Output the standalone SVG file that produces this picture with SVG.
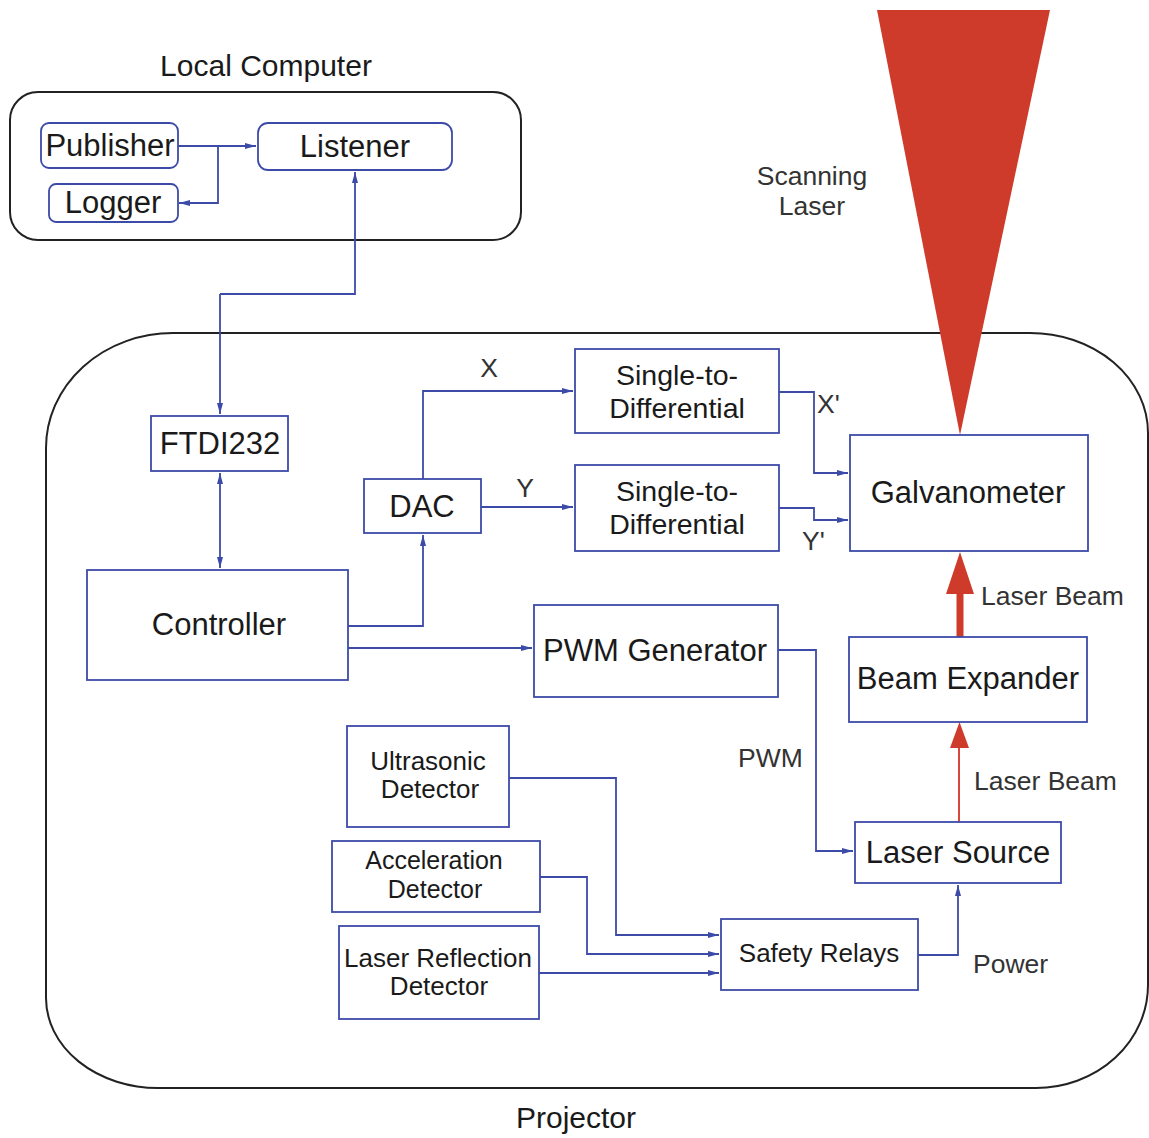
<svg xmlns="http://www.w3.org/2000/svg" width="1149" height="1138" viewBox="0 0 1149 1138">
<defs>
<style>
.box{fill:#fff;stroke:#3c4ba8;stroke-width:1.8}
.frame{fill:none;stroke:#222;stroke-width:2}
.t{font-family:"Liberation Sans",Arial,sans-serif;fill:#1a1a1a;text-anchor:middle}
.big{font-size:31px}
.s2d{font-size:28.5px}
.mid{font-size:26px}
.lbl{font-family:"Liberation Sans",Arial,sans-serif;fill:#333;font-size:26.5px}
.c{fill:none;stroke:#3c4ba8;stroke-width:1.8}
.red{fill:#cf3b2b}
</style>
<marker id="a" markerUnits="userSpaceOnUse" markerWidth="11" markerHeight="8" refX="11" refY="4" orient="auto-start-reverse">
<path d="M0,1 L11,4 L0,7 z" fill="#3c4ba8"/>
</marker>
</defs>
<rect width="1149" height="1138" fill="#fff"/>

<g id="local-computer">
<rect class="frame" x="10" y="92" width="511" height="148" rx="28"/>
<text class="t" x="266" y="76" font-size="30">Local Computer</text>
</g>
<g id="projector">
<path class="frame" d="M173,333 H1030 A118,100 0 0 1 1148,433 V985 A112,103 0 0 1 1036,1088 H158 A112,90 0 0 1 46,998 V448 A127,115 0 0 1 173,333 Z"/>
<text class="t" x="576" y="1128" font-size="30">Projector</text>
</g>
<g id="scanning-laser">
<polygon class="red" points="877,10 1050,10 960,435"/>
<text class="lbl" x="812" y="185" text-anchor="middle">Scanning</text>
<text class="lbl" x="812" y="215" text-anchor="middle">Laser</text>
</g>

<g id="connectors">
<path class="c" d="M178,146 H256" marker-end="url(#a)"/>
<path class="c" d="M218,146 V203 H179" marker-end="url(#a)"/>
<path class="c" d="M220,294 H355 V172" marker-end="url(#a)"/>
<path class="c" d="M220,294 V414" marker-end="url(#a)"/>
<path class="c" d="M220,473 V568" marker-start="url(#a)" marker-end="url(#a)"/>
<path class="c" d="M348,626 H423 V535" marker-end="url(#a)"/>
<path class="c" d="M348,648 H532" marker-end="url(#a)"/>
<path class="c" d="M423,479 V391 H573" marker-end="url(#a)"/>
<path class="c" d="M481,507 H573" marker-end="url(#a)"/>
<path class="c" d="M779,392 H814 V473 H848" marker-end="url(#a)"/>
<path class="c" d="M779,508 H814 V520 H848" marker-end="url(#a)"/>
<path class="c" d="M778,650 H816 V851 H853" marker-end="url(#a)"/>
<path class="c" d="M509,778 H616 V935 H719" marker-end="url(#a)"/>
<path class="c" d="M540,877 H587 V954 H719" marker-end="url(#a)"/>
<path class="c" d="M539,973 H719" marker-end="url(#a)"/>
<path class="c" d="M918,955 H958 V885" marker-end="url(#a)"/>
<line x1="960" y1="637" x2="960" y2="590" stroke="#cf3b2b" stroke-width="7"/>
<polygon class="red" points="946,594 974,594 960,552"/>
<line x1="959" y1="822" x2="959" y2="745" stroke="#d9473a" stroke-width="2"/>
<polygon class="red" points="950,748 969,748 959.5,722"/>
<text class="lbl" x="489" y="377" text-anchor="middle">X</text>
<text class="lbl" x="525" y="497" text-anchor="middle">Y</text>
<text class="lbl" x="817" y="413">X'</text>
<text class="lbl" x="802" y="550">Y'</text>
<text class="lbl" x="981" y="605">Laser Beam</text>
<text class="lbl" x="974" y="790">Laser Beam</text>
<text class="lbl" x="738" y="767">PWM</text>
<text class="lbl" x="973" y="973">Power</text>
</g>

<g id="publisher">
<rect class="box" x="41" y="123" width="137" height="45" rx="8"/>
<text class="t big" x="110" y="156">Publisher</text>
</g>
<g id="logger">
<rect class="box" x="49" y="184" width="129" height="38" rx="7"/>
<text class="t big" x="113" y="213">Logger</text>
</g>
<g id="listener">
<rect class="box" x="258" y="123" width="194" height="47" rx="10"/>
<text class="t big" x="355" y="157">Listener</text>
</g>
<g id="ftdi232">
<rect class="box" x="151" y="416" width="137" height="55"/>
<text class="t big" x="220" y="454">FTDI232</text>
</g>
<g id="controller">
<rect class="box" x="87" y="570" width="261" height="110"/>
<text class="t big" x="219" y="635">Controller</text>
</g>
<g id="dac">
<rect class="box" x="364" y="479" width="117" height="54"/>
<text class="t big" x="422" y="517">DAC</text>
</g>
<g id="s2d-x">
<rect class="box" x="575" y="349" width="204" height="84"/>
<text class="t s2d" x="677" y="385">Single-to-</text>
<text class="t s2d" x="677" y="418">Differential</text>
</g>
<g id="s2d-y">
<rect class="box" x="575" y="465" width="204" height="86"/>
<text class="t s2d" x="677" y="501">Single-to-</text>
<text class="t s2d" x="677" y="534">Differential</text>
</g>
<g id="galvanometer">
<rect class="box" x="850" y="435" width="238" height="116"/>
<text class="t big" x="968" y="503">Galvanometer</text>
</g>
<g id="pwm-generator">
<rect class="box" x="534" y="605" width="244" height="92"/>
<text class="t big" x="655" y="661">PWM Generator</text>
</g>
<g id="beam-expander">
<rect class="box" x="849" y="637" width="238" height="85"/>
<text class="t big" x="968" y="689">Beam Expander</text>
</g>
<g id="laser-source">
<rect class="box" x="855" y="822" width="206" height="61"/>
<text class="t big" x="958" y="863">Laser Source</text>
</g>
<g id="ultrasonic-detector">
<rect class="box" x="347" y="726" width="162" height="101"/>
<text class="t mid" x="428" y="770">Ultrasonic</text>
<text class="t mid" x="430" y="798">Detector</text>
</g>
<g id="acceleration-detector">
<rect class="box" x="332" y="841" width="208" height="71"/>
<text class="t" font-size="25" x="434" y="869">Acceleration</text>
<text class="t" font-size="25" x="435" y="898">Detector</text>
</g>
<g id="laser-reflection-detector">
<rect class="box" x="339" y="926" width="200" height="93"/>
<text class="t mid" x="438" y="967">Laser Reflection</text>
<text class="t mid" x="439" y="995">Detector</text>
</g>
<g id="safety-relays">
<rect class="box" x="721" y="919" width="197" height="71"/>
<text class="t mid" x="819" y="962">Safety Relays</text>
</g>
</svg>
